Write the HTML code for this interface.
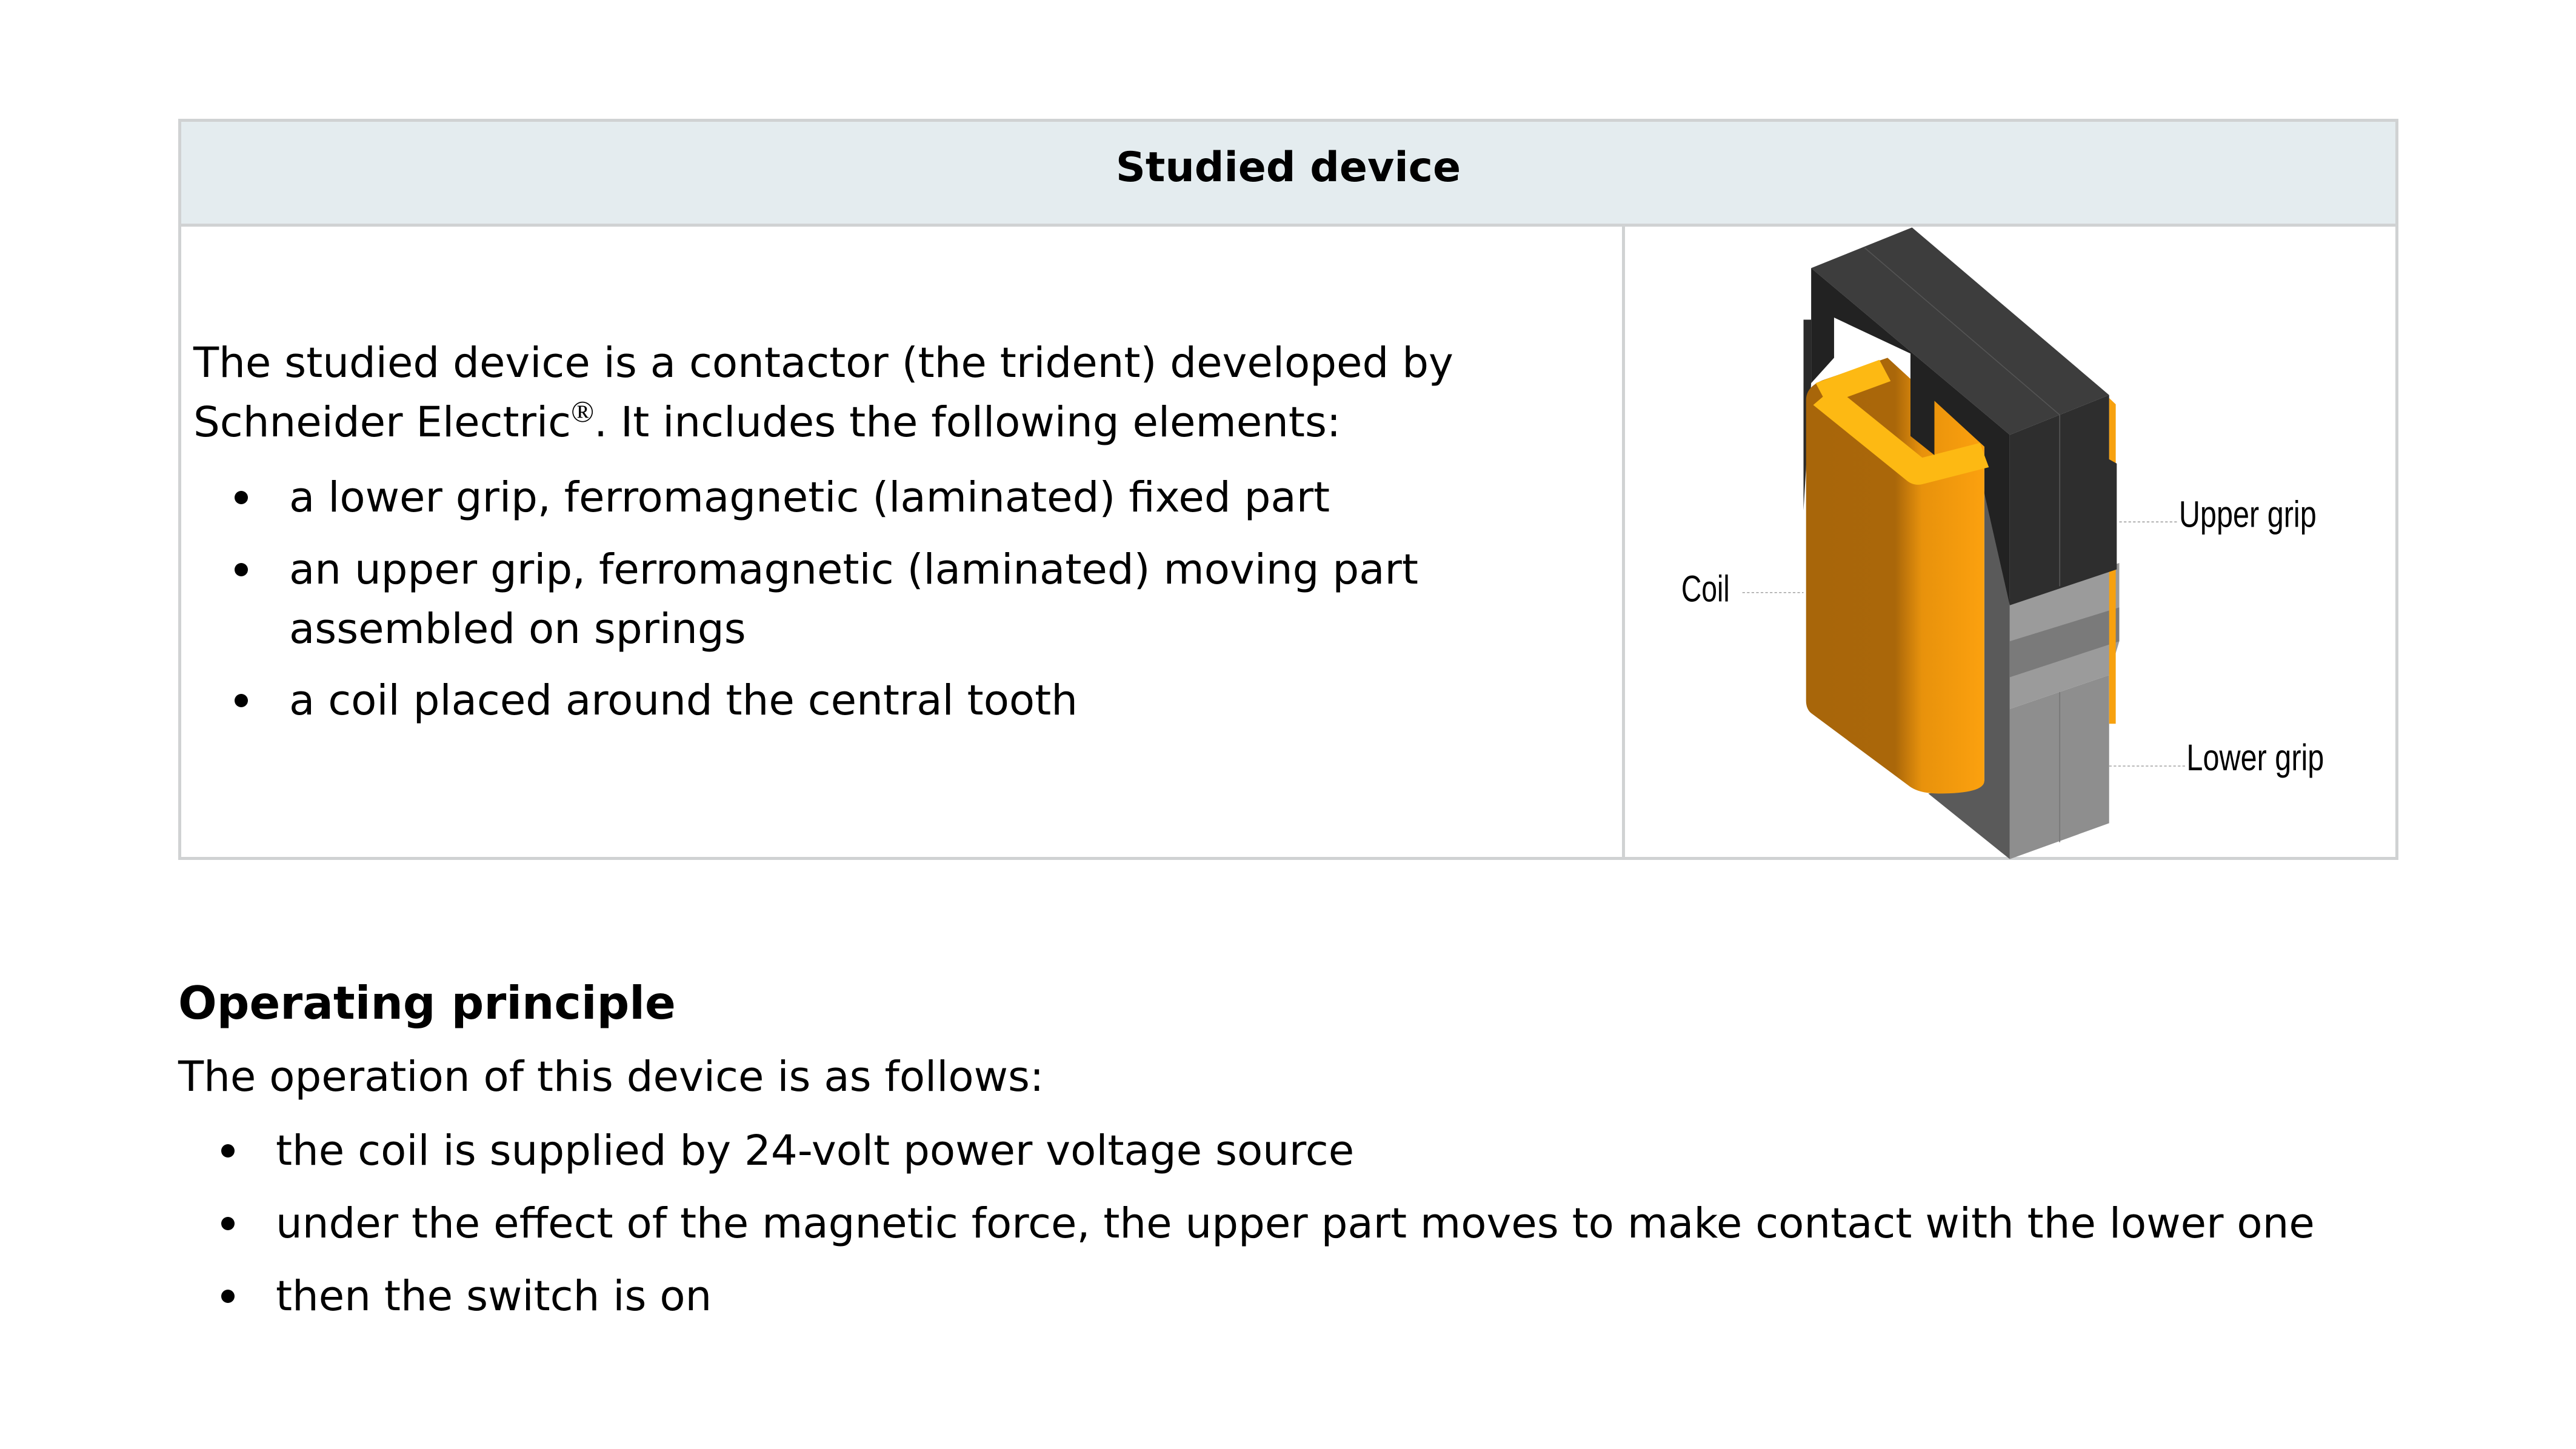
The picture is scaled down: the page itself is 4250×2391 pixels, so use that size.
<!DOCTYPE html>
<html><head><meta charset="utf-8"><style>
html,body{margin:0;padding:0;background:#fff;}
body{width:4250px;height:2391px;position:relative;overflow:hidden;font-family:"DejaVu Sans","Liberation Sans",sans-serif;color:#000;}
.t{position:absolute;white-space:nowrap;font-size:69px;line-height:1;}
.b{position:absolute;width:22px;height:22px;border-radius:50%;background:#000;}
</style></head><body>
<div style="position:absolute;left:294px;top:196px;width:3653px;height:1213px;border:5px solid #d0d2d3;"></div>
<div style="position:absolute;left:299px;top:201px;width:3653px;height:168px;background:#e4ecef;border-bottom:5px solid #d0d2d3;"></div>
<div style="position:absolute;left:2676px;top:374px;width:5px;height:1040px;background:#d0d2d3;"></div>
<div class="t" style="left:299px;width:3653px;text-align:center;top:243px;font-weight:bold;font-size:68px;">Studied device</div>

<div class="t" style="left:319px;top:565px;">The studied device is a contactor (the trident) developed by</div>
<div class="t" style="left:319px;top:663px;">Schneider Electric<sup style="font-family:'Liberation Serif',serif;font-size:50px;vertical-align:24px;line-height:0">®</sup>. It includes the following elements:</div>
<div class="b" style="left:387px;top:810px;"></div>
<div class="t" style="left:477px;top:787px;">a lower grip, ferromagnetic (laminated) fixed part</div>
<div class="b" style="left:387px;top:929px;"></div>
<div class="t" style="left:477px;top:906px;">an upper grip, ferromagnetic (laminated) moving part</div>
<div class="t" style="left:477px;top:1004px;">assembled on springs</div>
<div class="b" style="left:387px;top:1145px;"></div>
<div class="t" style="left:477px;top:1122px;">a coil placed around the central tooth</div>

<div class="t" style="left:294px;top:1618px;font-weight:bold;font-size:75px;">Operating principle</div>
<div class="t" style="left:294px;top:1743px;">The operation of this device is as follows:</div>
<div class="b" style="left:365px;top:1888px;"></div>
<div class="t" style="left:455px;top:1865px;">the coil is supplied by 24-volt power voltage source</div>
<div class="b" style="left:365px;top:2008px;"></div>
<div class="t" style="left:455px;top:1985px;">under the effect of the magnetic force, the upper part moves to make contact with the lower one</div>
<div class="b" style="left:365px;top:2128px;"></div>
<div class="t" style="left:455px;top:2105px;">then the switch is on</div>

<svg style="position:absolute;left:2694px;top:360px" width="1300" height="1080" viewBox="0 0 1547 1547" preserveAspectRatio="none">
<defs><linearGradient id="cg" x1="0" x2="1"><stop offset="0" stop-color="#a8660a"/><stop offset="0.5" stop-color="#aa670a"/><stop offset="0.65" stop-color="#e8920c"/><stop offset="1" stop-color="#fca10e"/></linearGradient></defs>
<polygon points="690,645 740,900 740,1515 580,1360 690,1330" fill="#5a5a5a"/>
<polygon points="740,1160 935,1080 935,1430 740,1515" fill="#8e8e8e"/>
<polygon points="740,900 955,815 955,1000 935,1080 740,1160" fill="#9b9b9b"/>
<polygon points="740,1000 955,920 955,1000 740,1085" fill="#7a7a7a"/>
<line x1="838" y1="1120" x2="838" y2="1475" stroke="#777" stroke-width="2"/>
<polygon points="335,240 350,240 350,390 335,690" fill="#2a2a2a"/>
<polygon points="935,425 948,440 948,1195 935,1195" fill="#f7a10f"/>
<polygon points="350,118 548,22 935,418 740,512" fill="#3d3d3d"/>
<polygon points="350,118 740,512 740,915 690,650 690,540 592,435 592,560 545,515 545,320 395,235 395,330 350,390" fill="#222"/>
<polygon points="740,512 935,418 935,570 950,580 950,830 740,915" fill="#2e2e2e"/>
<line x1="455" y1="70" x2="838" y2="465" stroke="#555" stroke-width="2"/>
<line x1="838" y1="465" x2="838" y2="870" stroke="#555" stroke-width="2"/>
<path d="M340,430 Q340,395 380,380 L500,330 L690,540 L690,1330 Q690,1360 600,1360 Q560,1360 540,1340 L350,1170 Q340,1160 340,1140 Z" fill="url(#cg)"/>
<polyline points="375,420 560,600 690,560" fill="none" stroke="#fdb913" stroke-width="60" stroke-linejoin="round"/>
<polyline points="370,415 495,360" fill="none" stroke="#fdb913" stroke-width="55"/>
<polygon points="545,330 592,380 592,560 545,515" fill="#222"/>
<g font-family="'Liberation Sans',sans-serif" font-size="88" fill="#000">
<text x="95" y="906" textLength="95" lengthAdjust="spacingAndGlyphs">Coil</text>
<text x="1072" y="730" textLength="270" lengthAdjust="spacingAndGlyphs">Upper grip</text>
<text x="1087" y="1305" textLength="270" lengthAdjust="spacingAndGlyphs">Lower grip</text>
</g>
<g stroke="#999" stroke-width="2" stroke-dasharray="5,4">
<line x1="215" y1="885" x2="335" y2="885"/>
<line x1="955" y1="718" x2="1072" y2="718"/>
<line x1="935" y1="1295" x2="1085" y2="1295"/>
</g>
</svg>
</body></html>
